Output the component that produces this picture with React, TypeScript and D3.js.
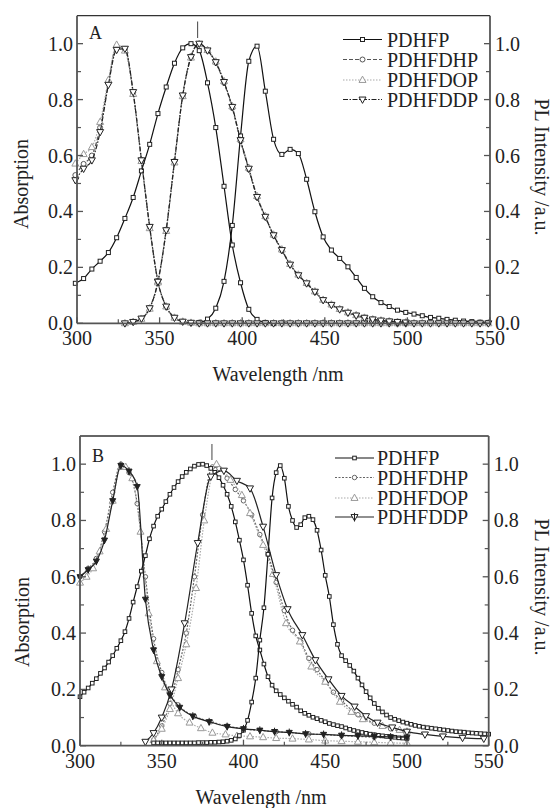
import React from "react";
import * as d3 from "d3";

// ---------------- Panel A data ----------------
const A_PDHFP_ABS_X = [299, 304, 309, 314, 319, 324, 329, 334, 339, 344, 349, 354, 359, 364, 369, 374, 379, 384, 389, 394, 399, 404, 409, 414, 419];
const A_PDHFP_ABS_Y = [0.143, 0.16, 0.194, 0.222, 0.253, 0.306, 0.375, 0.45, 0.545, 0.64, 0.75, 0.845, 0.93, 0.985, 1.0, 0.975, 0.86, 0.7, 0.49, 0.28, 0.145, 0.05, 0.014, 0.003, 0.0];

const A_PDHFP_PL_X = [374, 379, 384, 389, 394, 399, 404, 409, 414, 419, 424, 429, 434, 439, 444, 449, 454, 459, 464, 469, 474, 479, 484, 489, 494, 499, 504, 509, 514, 519, 524, 529, 534, 539, 544, 549];
const A_PDHFP_PL_Y = [0.003, 0.015, 0.054, 0.15, 0.35, 0.67, 0.937, 0.991, 0.83, 0.658, 0.604, 0.622, 0.607, 0.515, 0.399, 0.309, 0.262, 0.232, 0.202, 0.164, 0.125, 0.095, 0.074, 0.06, 0.047, 0.039, 0.033, 0.027, 0.021, 0.018, 0.014, 0.011, 0.008, 0.006, 0.004, 0.003];

const A_ABS_X = [299, 304, 309, 314, 319, 324, 329, 334, 339, 344, 349, 354, 359, 364, 369, 374, 379, 384, 389, 394, 399, 404, 409, 414, 419, 424, 429, 434, 439, 444, 449, 454, 459, 464, 469, 474, 479, 484, 489, 494, 499, 504, 509, 514, 519, 524, 529, 534, 539, 544, 549];
const A_DHP_ABS_Y = [0.53, 0.57, 0.6, 0.7, 0.86, 0.99, 0.98, 0.825, 0.585, 0.345, 0.15, 0.06, 0.02, 0.006, 0.002, 0, 0, 0, 0, 0, 0, 0, 0, 0, 0, 0, 0, 0, 0, 0, 0, 0, 0, 0, 0, 0, 0, 0, 0, 0, 0, 0, 0, 0, 0, 0, 0, 0, 0, 0, 0];
const A_DOP_ABS_Y = [0.571, 0.605, 0.63, 0.72, 0.87, 0.996, 0.975, 0.82, 0.58, 0.34, 0.15, 0.06, 0.02, 0.006, 0.002, 0, 0, 0, 0, 0, 0, 0, 0, 0, 0, 0, 0, 0, 0, 0, 0, 0, 0, 0, 0, 0, 0, 0, 0, 0, 0, 0, 0, 0, 0, 0, 0, 0, 0, 0, 0];
const A_DDP_ABS_Y = [0.512, 0.553, 0.583, 0.684, 0.853, 0.978, 0.982, 0.827, 0.583, 0.345, 0.149, 0.06, 0.02, 0.006, 0.002, 0, 0, 0, 0, 0, 0, 0, 0, 0, 0, 0, 0, 0, 0, 0, 0, 0, 0, 0, 0, 0, 0, 0, 0, 0, 0, 0, 0, 0, 0, 0, 0, 0, 0, 0, 0];

const A_PL_X = [329, 334, 339, 344, 349, 354, 359, 364, 369, 374, 379, 384, 389, 394, 399, 404, 409, 414, 419, 424, 429, 434, 439, 444, 449, 454, 459, 464, 469, 474, 479, 484, 489, 494, 499];
const A_DHP_PL_Y = [0, 0.005, 0.018, 0.056, 0.15, 0.335, 0.58, 0.815, 0.955, 1.0, 0.975, 0.932, 0.86, 0.77, 0.652, 0.55, 0.45, 0.38, 0.314, 0.26, 0.21, 0.172, 0.142, 0.112, 0.083, 0.066, 0.05, 0.038, 0.028, 0.02, 0.014, 0.01, 0.007, 0.005, 0.003];
const A_DOP_PL_Y = [0, 0.005, 0.016, 0.052, 0.146, 0.33, 0.575, 0.812, 0.95, 0.998, 0.977, 0.936, 0.866, 0.776, 0.658, 0.556, 0.455, 0.383, 0.317, 0.264, 0.212, 0.174, 0.144, 0.114, 0.084, 0.067, 0.051, 0.039, 0.029, 0.02, 0.014, 0.01, 0.007, 0.005, 0.003];
const A_DDP_PL_Y = [0, 0.005, 0.017, 0.054, 0.149, 0.333, 0.577, 0.815, 0.952, 1.0, 0.976, 0.934, 0.863, 0.774, 0.655, 0.553, 0.452, 0.381, 0.315, 0.262, 0.21, 0.172, 0.143, 0.113, 0.083, 0.066, 0.05, 0.038, 0.028, 0.02, 0.014, 0.01, 0.007, 0.005, 0.003];

// ---------------- Panel B data ----------------
const B_PDHFP_ABS_X = d3.range(300, 500.01, 2.5);
const B_PDHFP_ABS_Y = [0.174, 0.19, 0.205, 0.222, 0.238, 0.257, 0.276, 0.297, 0.32, 0.346, 0.373, 0.405, 0.452, 0.51, 0.565, 0.62, 0.675, 0.735, 0.78, 0.815, 0.84, 0.867, 0.893, 0.917, 0.938, 0.956, 0.971, 0.983, 0.993, 0.999, 1.0, 0.995, 0.985, 0.971, 0.952, 0.925, 0.893, 0.85, 0.795, 0.73, 0.66, 0.57, 0.47, 0.39, 0.34, 0.29, 0.245, 0.215, 0.195, 0.182, 0.17, 0.158, 0.147, 0.137, 0.124, 0.115, 0.108, 0.101, 0.096, 0.09, 0.085, 0.079, 0.075, 0.071, 0.068, 0.063, 0.058, 0.054, 0.05, 0.047, 0.044, 0.041, 0.039, 0.037, 0.035, 0.033, 0.032, 0.03, 0.028, 0.027, 0.026];

const B_PDHFP_PL_X = d3.range(345, 550.01, 2.5);
const B_PDHFP_PL_Y = [0.01, 0.01, 0.01, 0.01, 0.01, 0.01, 0.01, 0.01, 0.01, 0.01, 0.01, 0.011, 0.011, 0.011, 0.012, 0.012, 0.013, 0.014, 0.016, 0.019, 0.024, 0.036, 0.055, 0.09, 0.155, 0.24, 0.375, 0.49, 0.68, 0.88, 0.97, 0.995, 0.95, 0.85, 0.8, 0.775, 0.785, 0.81, 0.815, 0.803, 0.765, 0.695, 0.605, 0.53, 0.43, 0.36, 0.32, 0.302, 0.285, 0.265, 0.24, 0.216, 0.192, 0.17, 0.15, 0.133, 0.12, 0.109, 0.1, 0.094, 0.089, 0.084, 0.08, 0.076, 0.072, 0.069, 0.066, 0.064, 0.062, 0.06, 0.058, 0.056, 0.054, 0.052, 0.05, 0.049, 0.048, 0.046, 0.045, 0.044, 0.043, 0.042, 0.041];

const B_DHP_ABS_X = [300, 305, 310, 315, 320, 325, 330, 335, 340, 345, 350, 355, 360, 370, 380, 390, 400, 420, 440, 460, 480, 500];
const B_DHP_ABS_Y = [0.6, 0.63, 0.665, 0.76, 0.9, 1.0, 0.97, 0.86, 0.6, 0.38, 0.26, 0.185, 0.145, 0.105, 0.085, 0.07, 0.06, 0.05, 0.042, 0.036, 0.03, 0.025];
const B_DOP_ABS_X = [300, 304, 308, 312, 316, 320, 325, 328, 332, 337, 342, 347, 352, 360, 367, 374, 381, 389, 396, 404, 412, 420, 430, 440, 450, 460, 470, 480, 490, 500];
const B_DOP_ABS_Y = [0.579, 0.6, 0.63, 0.69, 0.77, 0.87, 0.99, 0.99, 0.95, 0.76, 0.47, 0.3, 0.207, 0.115, 0.082, 0.062, 0.046, 0.04, 0.035, 0.033, 0.03, 0.027, 0.025, 0.022, 0.018, 0.016, 0.014, 0.012, 0.01, 0.009];
const B_DDP_ABS_X = [300, 305, 310, 315, 320, 325, 330, 335, 340, 345, 350, 355, 361, 369, 379, 390, 400, 410, 419, 428, 438, 449, 460, 470, 480, 490, 500];
const B_DDP_ABS_Y = [0.6, 0.625, 0.655, 0.73, 0.87, 0.995, 0.975, 0.92, 0.52, 0.34, 0.245, 0.18, 0.136, 0.105, 0.085, 0.068, 0.06, 0.055, 0.05, 0.047, 0.042, 0.04, 0.037, 0.035, 0.033, 0.031, 0.03];

const B_DHP_PL_X = [345, 350, 355, 360, 365, 370, 375, 381, 385, 390, 395, 400, 405, 410, 415, 420, 425, 430, 435, 440, 445, 450, 455, 460, 470, 480, 490, 500];
const B_DHP_PL_Y = [0.02, 0.07, 0.15, 0.27, 0.4, 0.6, 0.82, 0.99, 0.985, 0.95, 0.91, 0.87, 0.82, 0.75, 0.68, 0.58, 0.48, 0.41, 0.37, 0.31, 0.27, 0.23, 0.19, 0.16, 0.11, 0.08, 0.06, 0.045];
const B_DOP_PL_X = [345, 350, 355, 360, 365, 371, 376, 383.5, 392, 399, 404, 412, 418, 426, 434.5, 441.5, 450, 459, 466, 473, 485, 495.5, 500];
const B_DOP_PL_Y = [0.02, 0.06, 0.13, 0.24, 0.36, 0.56, 0.8, 1.0, 0.944, 0.89, 0.826, 0.713, 0.61, 0.435, 0.37, 0.281, 0.227, 0.156, 0.12, 0.094, 0.07, 0.056, 0.05];
const B_DDP_PL_X = [340, 345, 350, 356, 364, 372, 380, 388, 396, 404, 412, 420, 427, 436, 444, 452, 460, 468, 475, 482, 491, 500, 511, 522, 534, 547];
const B_DDP_PL_Y = [0.014, 0.045, 0.1, 0.2, 0.435, 0.72, 0.956, 0.977, 0.941, 0.914, 0.778, 0.606, 0.485, 0.393, 0.304, 0.236, 0.177, 0.139, 0.105, 0.082, 0.065, 0.05, 0.04, 0.033, 0.028, 0.025];

// ---------------- axis / labels ----------------
const X_TICKS = [300, 350, 400, 450, 500, 550];
const X_MINOR = [325, 375, 425, 475, 525];
const Y_TICKS = [0, 0.2, 0.4, 0.6, 0.8, 1.0];
const Y_MINOR = [0.1, 0.3, 0.5, 0.7, 0.9];
const LEGEND_NAMES = ["PDHFP", "PDHFDHP", "PDHFDOP", "PDHFDDP"];

const FONT = "'Liberation Serif', 'Times New Roman', serif";
const TXT = "#222";

type MarkerType = "square" | "circle" | "up" | "down" | "downFilled" | "downStem";

interface Style {
  stroke: string;
  dash?: string;
  marker: MarkerType;
  mstroke: string;
  msize: number;
}

function Marker({ t, x, y, s, stroke }: { t: MarkerType; x: number; y: number; s: number; stroke: string }) {
  const h = s / 2;
  if (t === "square") return <rect x={x - h} y={y - h} width={s} height={s} fill="#fff" stroke={stroke} strokeWidth={1} />;
  if (t === "circle") return <circle cx={x} cy={y} r={h} fill="#fff" stroke={stroke} strokeWidth={1} />;
  if (t === "up") return <path d={`M${x},${y - h * 1.1}L${x + h},${y + h * 0.7}L${x - h},${y + h * 0.7}Z`} fill="#fff" stroke={stroke} strokeWidth={1} />;
  if (t === "down") return <path d={`M${x},${y + h * 1.1}L${x + h},${y - h * 0.7}L${x - h},${y - h * 0.7}Z`} fill="#fff" stroke={stroke} strokeWidth={1} />;
  if (t === "downFilled")
    return (
      <g>
        <path d={`M${x},${y + h * 1.1}L${x + h},${y - h * 0.7}L${x - h},${y - h * 0.7}Z`} fill="#222" stroke={stroke} strokeWidth={1} />
        <line x1={x} x2={x} y1={y - h * 1.3} y2={y + h * 1.3} stroke={stroke} strokeWidth={1} />
      </g>
    );
  return (
    <g>
      <path d={`M${x},${y + h * 1.1}L${x + h},${y - h * 0.7}L${x - h},${y - h * 0.7}Z`} fill="#fff" stroke={stroke} strokeWidth={1} />
      <line x1={x} x2={x} y1={y - h * 1.2} y2={y + h * 1.3} stroke={stroke} strokeWidth={1} />
    </g>
  );
}

interface Series {
  xs: number[];
  ys: number[];
  st: Style;
}

interface Geom {
  left: number;
  right: number;
  top: number;
  bottom: number;
}

function Panel(props: {
  g: Geom;
  series: Series[];
  legendStyles: Style[];
  legend: { x1: number; x2: number; tx: number; ys: number[] };
  letter: string;
  letterPos: [number, number];
  markLambda: number;
  markY: [number, number];
  xTitle: [number, number];
  yTitle: [number, number];
  y2Title: [number, number];
}) {
  const { g } = props;
  const x = d3.scaleLinear().domain([300, 550]).range([g.left, g.right]);
  const y = d3.scaleLinear().domain([0, 1.1]).range([g.bottom, g.top]);
  const axisColor = "#555";
  const line = d3
    .line<[number, number]>()
    .x((d) => x(d[0]))
    .y((d) => y(d[1]))
    .curve(d3.curveMonotoneX);

  return (
    <g>
      {props.series.map((s, i) => {
        const n = Math.min(s.xs.length, s.ys.length);
        const pts: [number, number][] = [];
        for (let k = 0; k < n; k++) pts.push([s.xs[k], s.ys[k]]);
        return (
          <g key={i}>
            <path d={line(pts) || ""} fill="none" stroke={s.st.stroke} strokeWidth={1.2} strokeDasharray={s.st.dash} />
            {pts.map((p, k) => (
              <Marker key={k} t={s.st.marker} x={x(p[0])} y={y(p[1])} s={s.st.msize} stroke={s.st.mstroke} />
            ))}
          </g>
        );
      })}
      <line x1={g.left} x2={g.right} y1={g.top} y2={g.top} stroke="#333" strokeWidth={1.3} />
      <line x1={g.left} x2={g.left} y1={g.top} y2={g.bottom} stroke={axisColor} strokeWidth={1.8} />
      <line x1={g.right} x2={g.right} y1={g.top} y2={g.bottom} stroke={axisColor} strokeWidth={1.8} />
      <line x1={g.left} x2={g.right} y1={g.bottom} y2={g.bottom} stroke={axisColor} strokeWidth={1.8} />
      {X_TICKS.map((t) => (
        <g key={"xt" + t}>
          <line x1={x(t)} x2={x(t)} y1={g.bottom} y2={g.bottom - 6} stroke={axisColor} strokeWidth={1.3} />
          <text x={x(t)} y={g.bottom + 22} textAnchor="middle" fontFamily={FONT} fontSize={20} fill={TXT}>
            {t}
          </text>
        </g>
      ))}
      {X_MINOR.map((t) => (
        <line key={"xm" + t} x1={x(t)} x2={x(t)} y1={g.bottom} y2={g.bottom - 4} stroke={axisColor} strokeWidth={1.2} />
      ))}
      {Y_TICKS.map((t) => (
        <g key={"yt" + t}>
          <line x1={g.left} x2={g.left + 6} y1={y(t)} y2={y(t)} stroke={axisColor} strokeWidth={1.3} />
          <line x1={g.right} x2={g.right - 6} y1={y(t)} y2={y(t)} stroke={axisColor} strokeWidth={1.3} />
          <text x={g.left - 4} y={y(t)} dy="0.35em" textAnchor="end" fontFamily={FONT} fontSize={20} fill={TXT}>
            {d3.format(".1f")(t)}
          </text>
          <text x={g.right + 5} y={y(t)} dy="0.35em" textAnchor="start" fontFamily={FONT} fontSize={20} fill={TXT}>
            {d3.format(".1f")(t)}
          </text>
        </g>
      ))}
      {Y_MINOR.map((t) => (
        <g key={"ym" + t}>
          <line x1={g.left} x2={g.left + 4} y1={y(t)} y2={y(t)} stroke={axisColor} strokeWidth={1.2} />
          <line x1={g.right} x2={g.right - 4} y1={y(t)} y2={y(t)} stroke={axisColor} strokeWidth={1.2} />
        </g>
      ))}
      <line x1={x(props.markLambda)} x2={x(props.markLambda)} y1={props.markY[0]} y2={props.markY[1]} stroke="#555" strokeWidth={1.1} />
      <text x={props.letterPos[0]} y={props.letterPos[1]} fontFamily={FONT} fontSize={18} fill={TXT}>
        {props.letter}
      </text>
      {LEGEND_NAMES.map((name, i) => {
        const st = props.legendStyles[i];
        const ly = props.legend.ys[i];
        const mx = (props.legend.x1 + props.legend.x2) / 2;
        return (
          <g key={name}>
            <line x1={props.legend.x1} x2={props.legend.x2} y1={ly} y2={ly} stroke={st.stroke} strokeWidth={1.2} strokeDasharray={st.dash} />
            <Marker t={st.marker} x={mx} y={ly} s={st.msize} stroke={st.mstroke} />
            <text x={props.legend.tx} y={ly} dy="0.35em" fontFamily={FONT} fontSize={20} fill={TXT}>
              {name}
            </text>
          </g>
        );
      })}
      <text x={props.xTitle[0]} y={props.xTitle[1]} textAnchor="middle" fontFamily={FONT} fontSize={20} fill={TXT}>
        Wavelength /nm
      </text>
      <text
        transform={`translate(${props.yTitle[0]},${props.yTitle[1]}) rotate(-90)`}
        textAnchor="middle"
        fontFamily={FONT}
        fontSize={20}
        fill={TXT}
      >
        Absorption
      </text>
      <text
        transform={`translate(${props.y2Title[0]},${props.y2Title[1]}) rotate(90)`}
        textAnchor="middle"
        fontFamily={FONT}
        fontSize={20}
        fill={TXT}
      >
        PL Intensity /a.u.
      </text>
    </g>
  );
}

const ST_A: Style[] = [
  { stroke: "#111", marker: "square", mstroke: "#222", msize: 4 },
  { stroke: "#555", dash: "4,2", marker: "circle", mstroke: "#555", msize: 5 },
  { stroke: "#aaa", dash: "1.5,1.5", marker: "up", mstroke: "#999", msize: 7 },
  { stroke: "#222", dash: "5,1.5,1.5,1.5", marker: "down", mstroke: "#222", msize: 7 },
];
const ST_B: Style[] = [
  { stroke: "#111", marker: "square", mstroke: "#222", msize: 3.6 },
  { stroke: "#666", dash: "2,1.5", marker: "circle", mstroke: "#666", msize: 4.5 },
  { stroke: "#aaa", dash: "1.5,1.5", marker: "up", mstroke: "#999", msize: 7 },
  { stroke: "#222", marker: "down", mstroke: "#222", msize: 7 },
];
const ST_B_DDP_ABS: Style = { stroke: "#222", marker: "downFilled", mstroke: "#222", msize: 6 };
const ST_B_LEG: Style[] = [ST_B[0], ST_B[1], ST_B[2], { stroke: "#222", marker: "downStem", mstroke: "#222", msize: 7 }];

export default function App() {
  const seriesA: Series[] = [
    { xs: A_ABS_X, ys: A_DHP_ABS_Y, st: ST_A[1] },
    { xs: A_PL_X, ys: A_DHP_PL_Y, st: ST_A[1] },
    { xs: A_ABS_X, ys: A_DOP_ABS_Y, st: ST_A[2] },
    { xs: A_PL_X, ys: A_DOP_PL_Y, st: ST_A[2] },
    { xs: A_PDHFP_ABS_X, ys: A_PDHFP_ABS_Y, st: ST_A[0] },
    { xs: A_PDHFP_PL_X, ys: A_PDHFP_PL_Y, st: ST_A[0] },
    { xs: A_ABS_X, ys: A_DDP_ABS_Y, st: ST_A[3] },
    { xs: A_PL_X, ys: A_DDP_PL_Y, st: ST_A[3] },
  ];
  const seriesB: Series[] = [
    { xs: B_DHP_ABS_X, ys: B_DHP_ABS_Y, st: ST_B[1] },
    { xs: B_DHP_PL_X, ys: B_DHP_PL_Y, st: ST_B[1] },
    { xs: B_DOP_ABS_X, ys: B_DOP_ABS_Y, st: ST_B[2] },
    { xs: B_DOP_PL_X, ys: B_DOP_PL_Y, st: ST_B[2] },
    { xs: B_PDHFP_ABS_X, ys: B_PDHFP_ABS_Y, st: ST_B[0] },
    { xs: B_PDHFP_PL_X, ys: B_PDHFP_PL_Y, st: ST_B[0] },
    { xs: B_DDP_ABS_X, ys: B_DDP_ABS_Y, st: ST_B_DDP_ABS },
    { xs: B_DDP_PL_X, ys: B_DDP_PL_Y, st: ST_B[3] },
  ];
  return (
    <svg width={554} height={808} style={{ position: "absolute", left: 0, top: 0, background: "#fff" }}>
      <rect x={0} y={0} width={554} height={808} fill="#fff" />
      <Panel
        g={{ left: 77, right: 490, top: 15.7, bottom: 323.3 }}
        series={seriesA}
        legendStyles={ST_A}
        legend={{ x1: 343, x2: 382, tx: 387, ys: [39.5, 59.5, 80, 99.5] }}
        letter="A"
        letterPos={[89, 39]}
        markLambda={373}
        markY={[21.5, 38]}
        xTitle={[278, 381]}
        yTitle={[28, 184]}
        y2Title={[535, 167]}
      />
      <Panel
        g={{ left: 80, right: 488.7, top: 436, bottom: 745.7 }}
        series={seriesB}
        legendStyles={ST_B_LEG}
        legend={{ x1: 335, x2: 374, tx: 377, ys: [458, 477.5, 498, 517] }}
        letter="B"
        letterPos={[92, 462]}
        markLambda={380.7}
        markY={[444, 460]}
        xTitle={[261, 804]}
        yTitle={[29, 622]}
        y2Title={[535, 587]}
      />
    </svg>
  );
}
